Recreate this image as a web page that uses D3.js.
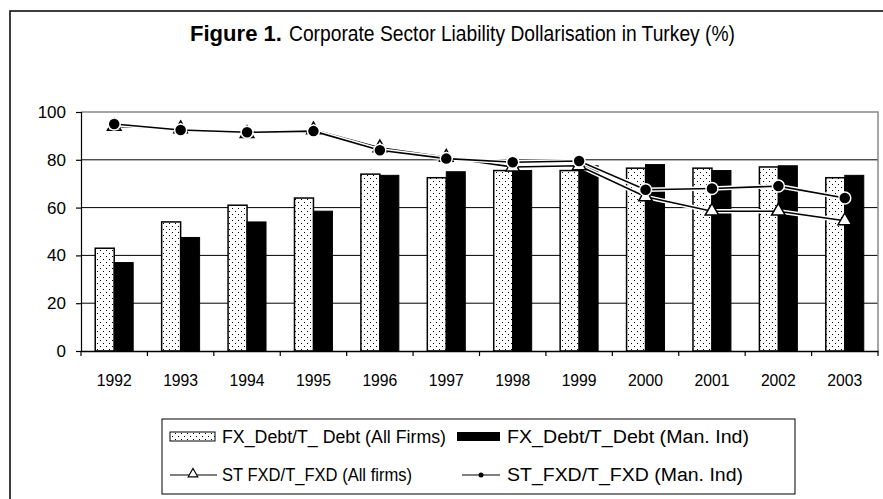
<!DOCTYPE html>
<html><head><meta charset="utf-8">
<script src="https://cdn.jsdelivr.net/npm/d3@7"></script>
<style>body{margin:0;background:#fff}svg{display:block}</style>
</head><body><svg id="c" width="883" height="499"></svg>
<script>
const years = ["1992","1993","1994","1995","1996","1997","1998","1999","2000","2001","2002","2003"];
const fxAll = [43,54,61,64,74,72.5,75.5,75.5,76.5,76.5,77,72.5];
const fxMan = [37,47.5,54,58.5,73.5,75,75.5,77.5,78,75.5,77.5,73.5];
const stAll = [94,93,91,92.5,85,81,77,77.5,64.5,58.5,58.5,54.5];
const stMan = [95,92.5,91.5,92,84,80.5,79,79.5,67.5,68,69,64];
const yTicks = [0,20,40,60,80,100];
const titleBold = "Figure 1.";
const titleRest = "Corporate Sector Liability Dollarisation in Turkey (%)";
const legendLabels = ["FX_Debt/T_ Debt (All Firms)","FX_Debt/T_Debt (Man. Ind)","ST FXD/T_FXD (All firms)","ST_FXD/T_FXD (Man. Ind)"];

const svg = d3.select("#c");
const FONT = "'Liberation Sans', Arial, sans-serif";
const defs = svg.append("defs");
const pat = defs.append("pattern").attr("id","dots").attr("patternUnits","userSpaceOnUse")
  .attr("width",6).attr("height",6);
pat.append("rect").attr("width",6).attr("height",6).attr("fill","#fff");
pat.append("rect").attr("x",1).attr("y",1).attr("width",1).attr("height",1).attr("fill","#000");
pat.append("rect").attr("x",4).attr("y",4).attr("width",1).attr("height",1).attr("fill","#000");

// outer frame (cropped at right and bottom)
svg.append("rect").attr("x",10).attr("y",11).attr("width",900).attr("height",520)
  .attr("fill","none").attr("stroke","#000").attr("stroke-width",1.5);

// title (two separate texts)
svg.append("text").attr("x",190).attr("y",41)
  .attr("font-family",FONT).attr("font-size",22).attr("font-weight","bold").attr("fill","#000")
  .attr("textLength",92).attr("lengthAdjust","spacingAndGlyphs").text(titleBold);
svg.append("text").attr("x",289).attr("y",41)
  .attr("font-family",FONT).attr("font-size",22).attr("fill","#000")
  .attr("textLength",446).attr("lengthAdjust","spacingAndGlyphs").text(titleRest);

const x = d3.scaleBand().domain(years).range([81,878]).padding(0);
const xs = d3.scaleBand().domain(["all","man"]).range([0,x.bandwidth()]).paddingInner(0).paddingOuter(0.75);
const y = d3.scaleLinear().domain([0,100]).range([351,112]);

// gridlines
svg.append("g").selectAll("line").data(yTicks.filter(d=>d>0 && d<100)).join("line")
  .attr("x1",81).attr("x2",878).attr("y1",d=>y(d)).attr("y2",d=>y(d))
  .attr("stroke","#000").attr("stroke-width",1);
// plot border (top/right gray)
svg.append("path").attr("d",`M81,${y(100)}H878V${y(0)}`).attr("fill","none")
  .attr("stroke","#888").attr("stroke-width",1.5);

// bars
const bars = svg.append("g");
bars.selectAll("rect.a").data(years).join("rect").attr("class","a")
  .attr("x",d=>x(d)+xs("all")).attr("width",xs.bandwidth())
  .attr("y",(d,i)=>y(fxAll[i])).attr("height",(d,i)=>y(0)-y(fxAll[i]))
  .attr("fill","url(#dots)").attr("stroke","#000").attr("stroke-width",1.5);
bars.selectAll("rect.m").data(years).join("rect").attr("class","m")
  .attr("x",d=>x(d)+xs("man")).attr("width",xs.bandwidth())
  .attr("y",(d,i)=>y(fxMan[i])).attr("height",(d,i)=>y(0)-y(fxMan[i]))
  .attr("fill","#000").attr("stroke","#000").attr("stroke-width",1);

// axes
const yAxis = d3.axisLeft(y).tickValues(yTicks).tickSize(5).tickPadding(10);
const gy = svg.append("g").attr("transform","translate(81,0)").call(yAxis);
gy.selectAll("text").attr("font-family",FONT).attr("font-size",17).attr("fill","#000");
gy.selectAll("line,path").attr("stroke","#000").attr("stroke-width",1.2);

const xAxis = d3.axisBottom(x).tickSize(0).tickPadding(23);
const gx = svg.append("g").attr("transform",`translate(0,${y(0)})`).call(xAxis);
gx.select(".domain").attr("stroke","#000").attr("stroke-width",1.5);
gx.selectAll("text").attr("font-family",FONT).attr("font-size",17).attr("fill","#000")
  .attr("textLength",35).attr("lengthAdjust","spacingAndGlyphs");
const boundaries = years.map(d=>x(d)).concat([x.range()[1]]);
svg.append("g").selectAll("line").data(boundaries).join("line")
  .attr("x1",d=>d).attr("x2",d=>d).attr("y1",y(0)).attr("y2",y(0)+5)
  .attr("stroke","#000").attr("stroke-width",1.2);

// lines
const cx = d => x(d)+x.bandwidth()/2;
function drawLine(vals){
  const line = d3.line().x((d,i)=>cx(years[i])).y(d=>y(d));
  svg.append("path").datum(vals).attr("d",line).attr("fill","none").attr("stroke","#fff").attr("stroke-width",4.5);
  svg.append("path").datum(vals).attr("d",line).attr("fill","none").attr("stroke","#000").attr("stroke-width",1.6);
}
drawLine(stAll);
drawLine(stMan);
const tri = d3.symbol().type(d3.symbolTriangle).size(80);
svg.append("g").selectAll("path").data(stAll).join("path")
  .attr("transform",(d,i)=>`translate(${cx(years[i])},${y(d)})`).attr("d",tri)
  .attr("fill","#fff").attr("stroke","#000").attr("stroke-width",1.5);
svg.append("g").selectAll("circle").data(stMan).join("circle")
  .attr("cx",(d,i)=>cx(years[i])).attr("cy",d=>y(d)).attr("r",6)
  .attr("fill","#000").attr("stroke","#fff").attr("stroke-width",1.5);

// legend
const lg = svg.append("g");
lg.append("rect").attr("x",162).attr("y",419).attr("width",633).attr("height",75)
  .attr("fill","#fff").attr("stroke","#000").attr("stroke-width",1);
lg.append("rect").attr("x",170).attr("y",432).attr("width",45).attr("height",9)
  .attr("fill","url(#dots)").attr("stroke","#000").attr("stroke-width",1);
lg.append("rect").attr("x",457).attr("y",432).attr("width",43).attr("height",9)
  .attr("fill","#000");
lg.append("line").attr("x1",170).attr("x2",217).attr("y1",475).attr("y2",475).attr("stroke","#000").attr("stroke-width",1.2);
lg.append("path").attr("transform","translate(193,474)").attr("d",d3.symbol().type(d3.symbolTriangle).size(40))
  .attr("fill","#fff").attr("stroke","#000").attr("stroke-width",1.2);
lg.append("line").attr("x1",462).attr("x2",500).attr("y1",475).attr("y2",475).attr("stroke","#000").attr("stroke-width",1.2);
lg.append("circle").attr("cx",481).attr("cy",475).attr("r",2.5).attr("fill","#000");
const lpos = [[222,443],[507,443],[222,481],[507,481]];
const lwid = [224,242,190,236];
lg.selectAll("text").data(legendLabels).join("text")
  .attr("x",(d,i)=>lpos[i][0]).attr("y",(d,i)=>lpos[i][1])
  .attr("textLength",(d,i)=>lwid[i]).attr("lengthAdjust","spacingAndGlyphs")
  .attr("font-family",FONT).attr("font-size",18).attr("fill","#000").text(d=>d);
</script></body></html>
